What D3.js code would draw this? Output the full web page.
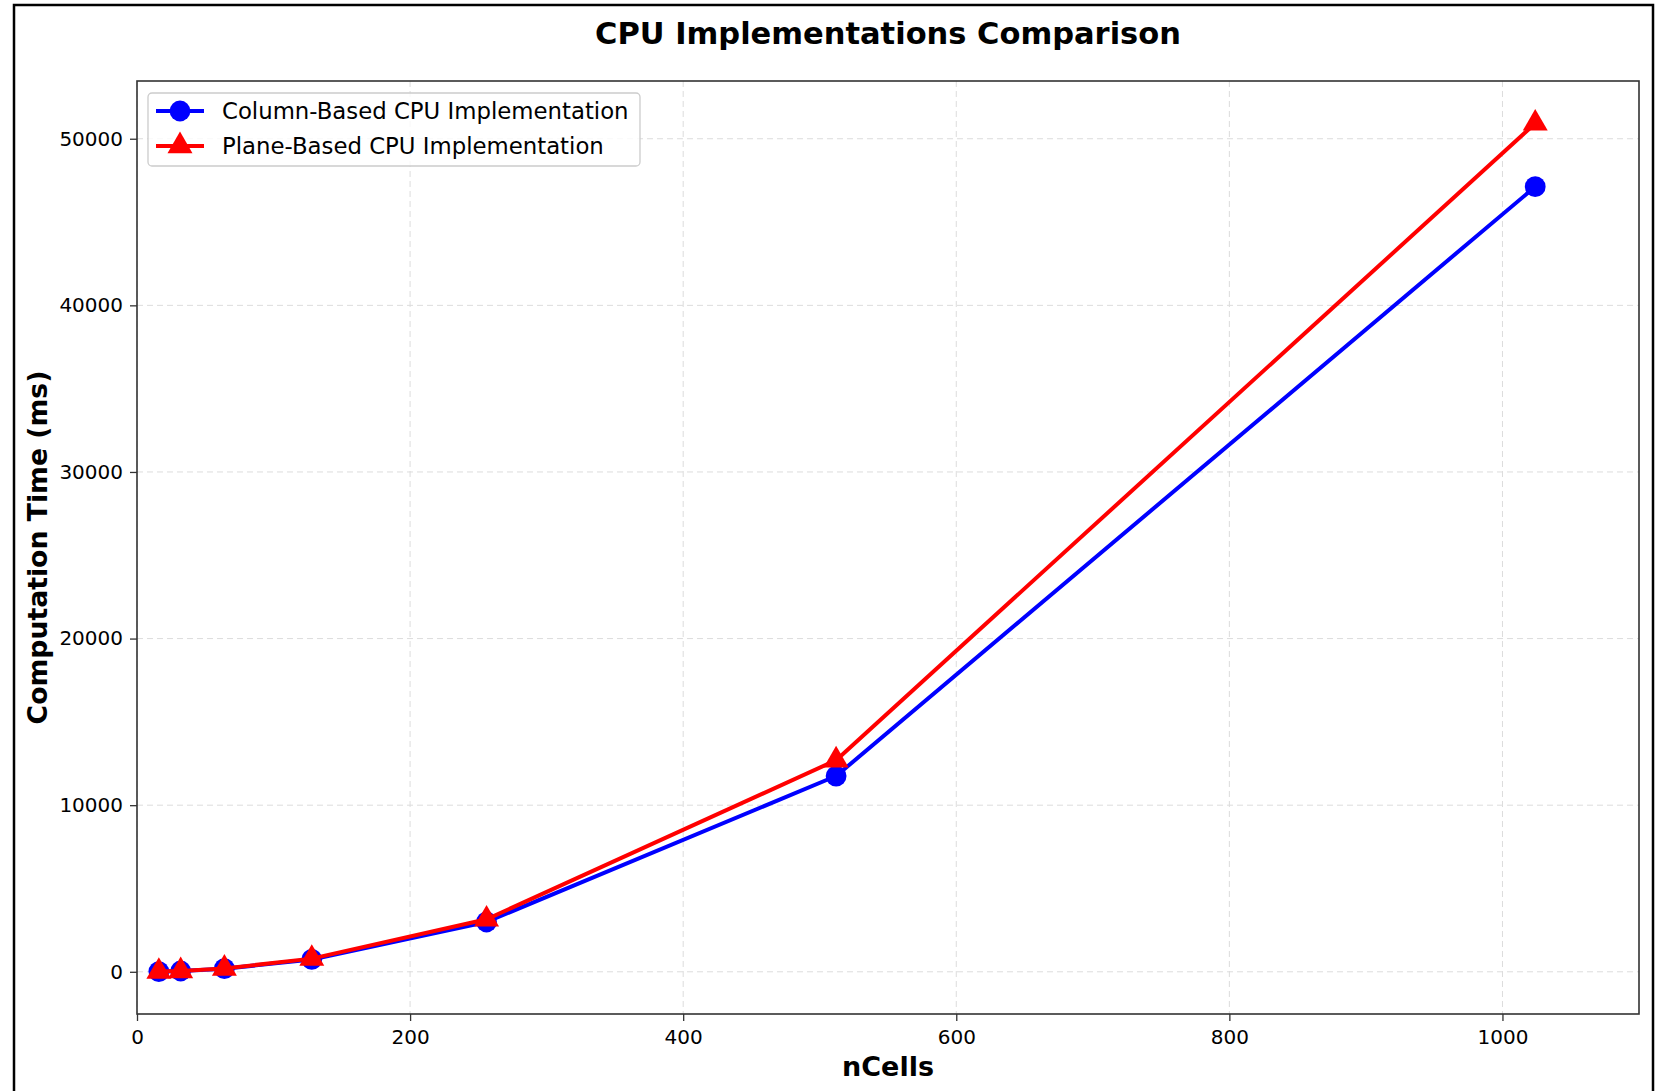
<!DOCTYPE html>
<html lang="en">
<head>
    <meta charset="UTF-8">
    <title>CPU Implementations Comparison</title>
    <script src="https://d3js.org/d3.v7.min.js"></script>
</head>
<style>
    body { margin: 0; background: #fff; }
    svg text { font-family: "DejaVu Sans", sans-serif; }
</style>
<body>
    <div id="chart"></div>
    <script>
        // data
        const nCells = [16, 32, 64, 128, 256, 512, 1024];
        const columnTimes = [12, 47, 185, 740, 2990, 11750, 47120];
        const planeTimes = [13, 50, 200, 790, 3150, 12700, 50920];
        const xTicks = [0, 200, 400, 600, 800, 1000];
        const yTicks = [0, 10000, 20000, 30000, 40000, 50000];
        const seriesNames = ['Column-Based CPU Implementation', 'Plane-Based CPU Implementation'];

        const W = 1660, H = 1091;
        const plot = { left: 137, top: 81, right: 1639, bottom: 1014 };

        const svg = d3.select('#chart')
            .append('svg')
            .attr('width', W)
            .attr('height', H);

        svg.append('rect')
            .attr('width', W)
            .attr('height', H)
            .attr('fill', '#fff');

        // figure frame (bottom edge runs off the picture)
        svg.append('rect')
            .attr('x', 14)
            .attr('y', 5)
            .attr('width', 1639)
            .attr('height', 1100)
            .attr('fill', 'none')
            .attr('stroke', '#000')
            .attr('stroke-width', 2.5);

        const x = d3.scaleLinear()
            .domain([0, 1100])
            .range([plot.left, plot.right]);

        // matplotlib style 5% margins
        const allY = columnTimes.concat(planeTimes);
        const yMin = d3.min(allY), yMax = d3.max(allY);
        const pad = (yMax - yMin) * 0.05;
        const y = d3.scaleLinear()
            .domain([yMin - pad, yMax + pad])
            .range([plot.bottom, plot.top]);

        // grid
        const grid = svg.append('g');
        grid.selectAll('.gx')
            .data(xTicks)
            .enter()
            .append('line')
            .attr('x1', d => x(d))
            .attr('x2', d => x(d))
            .attr('y1', plot.top)
            .attr('y2', plot.bottom)
            .attr('stroke', '#dcdcdc')
            .attr('stroke-width', 1)
            .attr('stroke-dasharray', '6,4');
        grid.selectAll('.gy')
            .data(yTicks)
            .enter()
            .append('line')
            .attr('x1', plot.left)
            .attr('x2', plot.right)
            .attr('y1', d => y(d))
            .attr('y2', d => y(d))
            .attr('stroke', '#dcdcdc')
            .attr('stroke-width', 1)
            .attr('stroke-dasharray', '6,4');

        // axes
        const xAxis = svg.append('g')
            .attr('transform', `translate(0,${plot.bottom})`)
            .call(d3.axisBottom(x).tickValues(xTicks).tickSize(7).tickPadding(9).tickFormat(d3.format('d')));
        const yAxis = svg.append('g')
            .attr('transform', `translate(${plot.left},0)`)
            .call(d3.axisLeft(y).tickValues(yTicks).tickSize(7).tickPadding(7).tickFormat(d3.format('d')));

        [xAxis, yAxis].forEach(g => {
            g.select('.domain').remove();
            g.selectAll('.tick line').attr('stroke', '#333').attr('stroke-width', 1.3);
            g.selectAll('.tick text')
                .attr('fill', '#000')
                .attr('font-size', 20)
                .attr('font-family', '"DejaVu Sans", sans-serif');
        });

        // spines
        svg.append('rect')
            .attr('x', plot.left)
            .attr('y', plot.top)
            .attr('width', plot.right - plot.left)
            .attr('height', plot.bottom - plot.top)
            .attr('fill', 'none')
            .attr('stroke', '#333')
            .attr('stroke-width', 1.6);

        // series
        const series = [
            { name: seriesNames[0], values: columnTimes, color: '#0000ff', marker: d3.symbolCircle, size: 340 },
            { name: seriesNames[1], values: planeTimes, color: '#ff0000', marker: d3.symbolTriangle, size: 270 }
        ];

        const line = d3.line()
            .x((d, i) => x(nCells[i]))
            .y(d => y(d));

        series.forEach(s => {
            const g = svg.append('g');
            g.append('path')
                .datum(s.values)
                .attr('d', line)
                .attr('fill', 'none')
                .attr('stroke', s.color)
                .attr('stroke-width', 4)
                .attr('stroke-linejoin', 'round');
            g.selectAll('path.m')
                .data(s.values)
                .enter()
                .append('path')
                .attr('class', 'm')
                .attr('d', d3.symbol().type(s.marker).size(s.size))
                .attr('transform', (d, i) => `translate(${x(nCells[i])},${y(d)})`)
                .attr('fill', s.color);
        });

        // legend
        const legend = svg.append('g');
        legend.append('rect')
            .attr('x', 148)
            .attr('y', 93)
            .attr('width', 492)
            .attr('height', 73)
            .attr('rx', 4)
            .attr('fill', '#fff')
            .attr('fill-opacity', 0.8)
            .attr('stroke', '#cccccc')
            .attr('stroke-width', 1.3);
        series.forEach((s, i) => {
            const ly = 111 + i * 35;
            legend.append('line')
                .attr('x1', 156)
                .attr('x2', 204)
                .attr('y1', ly)
                .attr('y2', ly)
                .attr('stroke', s.color)
                .attr('stroke-width', 4);
            legend.append('path')
                .attr('d', d3.symbol().type(s.marker).size(s.size))
                .attr('transform', `translate(180,${ly})`)
                .attr('fill', s.color);
            legend.append('text')
                .attr('x', 222)
                .attr('y', ly)
                .attr('dy', '0.35em')
                .attr('font-size', 22.8)
                .attr('fill', '#000')
                .text(s.name);
        });

        // title and labels
        svg.append('text')
            .attr('x', (plot.left + plot.right) / 2)
            .attr('y', 44)
            .attr('text-anchor', 'middle')
            .attr('font-size', 30.5)
            .attr('font-weight', 'bold')
            .text('CPU Implementations Comparison');

        svg.append('text')
            .attr('x', (plot.left + plot.right) / 2)
            .attr('y', 1076)
            .attr('text-anchor', 'middle')
            .attr('font-size', 27)
            .attr('font-weight', 'bold')
            .text('nCells');

        svg.append('text')
            .attr('transform', `translate(47,${(plot.top + plot.bottom) / 2}) rotate(-90)`)
            .attr('text-anchor', 'middle')
            .attr('font-size', 26.7)
            .attr('font-weight', 'bold')
            .text('Computation Time (ms)');
    </script>
</body>
</html>
